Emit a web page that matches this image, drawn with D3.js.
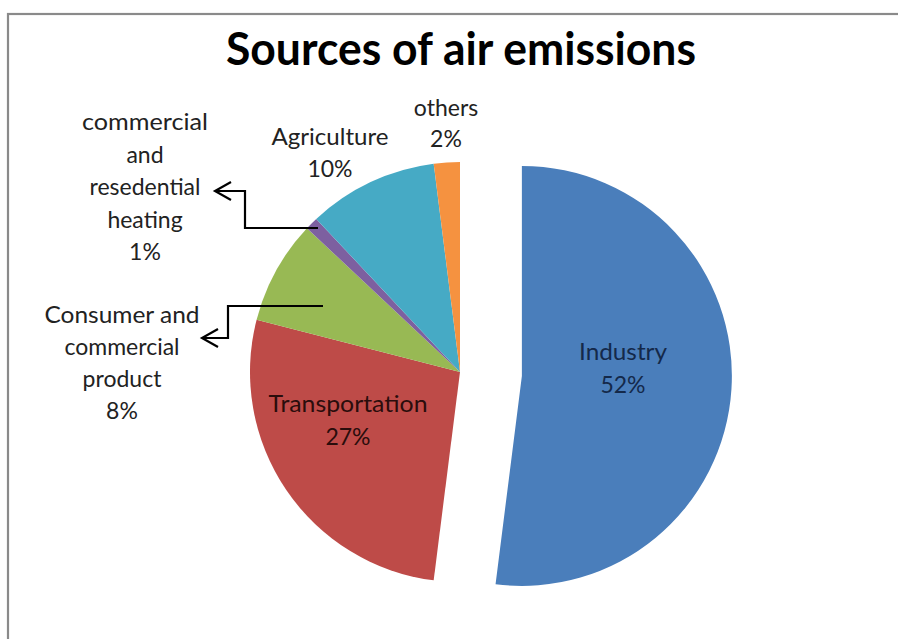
<!DOCTYPE html>
<html>
<head>
<meta charset="utf-8">
<script src="https://cdn.jsdelivr.net/npm/d3@7"></script>
<style>
  html, body { margin: 0; padding: 0; background: #fff; }
  svg { display: block; }
</style>
</head>
<body>
<svg id="chart" width="898" height="639"></svg>
<script>
const categories = ["Industry", "Transportation", "Consumer and commercial product", "commercial and resedential heating", "Agriculture", "others"];
const values = [52, 27, 8, 1, 10, 2];
const colors = ["#4a7ebb", "#be4b48", "#98b954", "#7d60a0", "#46aac5", "#f59240"];
const labelLines = [
  ["Industry", "52%"],
  ["Transportation", "27%"],
  ["Consumer and", "commercial", "product", "8%"],
  ["commercial", "and", "resedential", "heating", "1%"],
  ["Agriculture", "10%"],
  ["others", "2%"]
];
const title = "Sources of air emissions";

const W = 898, H = 639;
const cx = 460, cy = 372, R = 210, explode = 62;
const svg = d3.select("#chart");

// frame (only top/left visible in reference)
svg.append("rect").attr("x", 8).attr("y", 14).attr("width", W + 20).attr("height", H + 20)
  .attr("fill", "#fff").attr("stroke", "#8a8a8a").attr("stroke-width", 2.2);

const font = "Lato, 'Open Sans', sans-serif";

svg.append("text").attr("x", 461).attr("y", 65).attr("text-anchor", "middle")
  .attr("font-family", font).attr("font-weight", "bold")
  .attr("font-size", 46).attr("fill", "#000").attr("textLength", 470).attr("lengthAdjust", "spacingAndGlyphs")
  .text(title);

const pie = d3.pie().sort(null).value(d => d)(values);
const arc = d3.arc().innerRadius(0).outerRadius(R);

const g = svg.append("g").attr("transform", `translate(${cx},${cy})`);
g.selectAll("path").data(pie).join("path")
  .attr("d", arc)
  .attr("fill", (d, i) => colors[i])
  .attr("transform", (d, i) => {
    if (i !== 0) return null;
    const a = (d.startAngle + d.endAngle) / 2;
    return `translate(${explode * Math.sin(a)},${-explode * Math.cos(a)})`;
  });

function block(x, y0, lines, size, color, gap, widths) {
  const t = svg.append("text").attr("text-anchor", "middle").attr("font-family", font)
    .attr("font-size", size).attr("fill", color);
  lines.forEach((l, k) => {
    const ts = t.append("tspan").attr("x", x).attr("y", y0 + k * gap).text(l);
    if (widths && widths[k]) ts.attr("textLength", widths[k]).attr("lengthAdjust", "spacingAndGlyphs");
  });
}
block(623, 360, labelLines[0], 23, "#14294a", 33, [88, 0]);
block(348, 412, labelLines[1], 23, "#2a0d0c", 33, [159, 0]);
block(122, 323, labelLines[2], 23, "#222", 32, [155, 0, 0, 0]);
block(145, 130, labelLines[3], 23, "#222", 32.5, [126, 0, 0, 0, 0]);
block(330, 145, labelLines[4], 23, "#222", 32, [117, 0]);
block(446, 116, labelLines[5], 23, "#222", 31, [0, 0]);

// leader lines with open arrowheads
const leaders = [
  [[cx - 142, cy - 144], [cx - 215, cy - 144], [cx - 215, cy - 181], [cx - 245, cy - 181]],
  [[cx - 137, cy - 66], [cx - 232, cy - 66], [cx - 232, cy - 34], [cx - 258, cy - 34]]
];
const line = d3.line();
leaders.forEach(pts => {
  svg.append("path").attr("d", line(pts)).attr("fill", "none").attr("stroke", "#000").attr("stroke-width", 2.2);
  const tip = pts[pts.length - 1];
  svg.append("path").attr("d", line([[tip[0] + 16, tip[1] - 9], tip, [tip[0] + 16, tip[1] + 9]]))
    .attr("fill", "none").attr("stroke", "#000").attr("stroke-width", 2.2);
});
</script>
</body>
</html>
